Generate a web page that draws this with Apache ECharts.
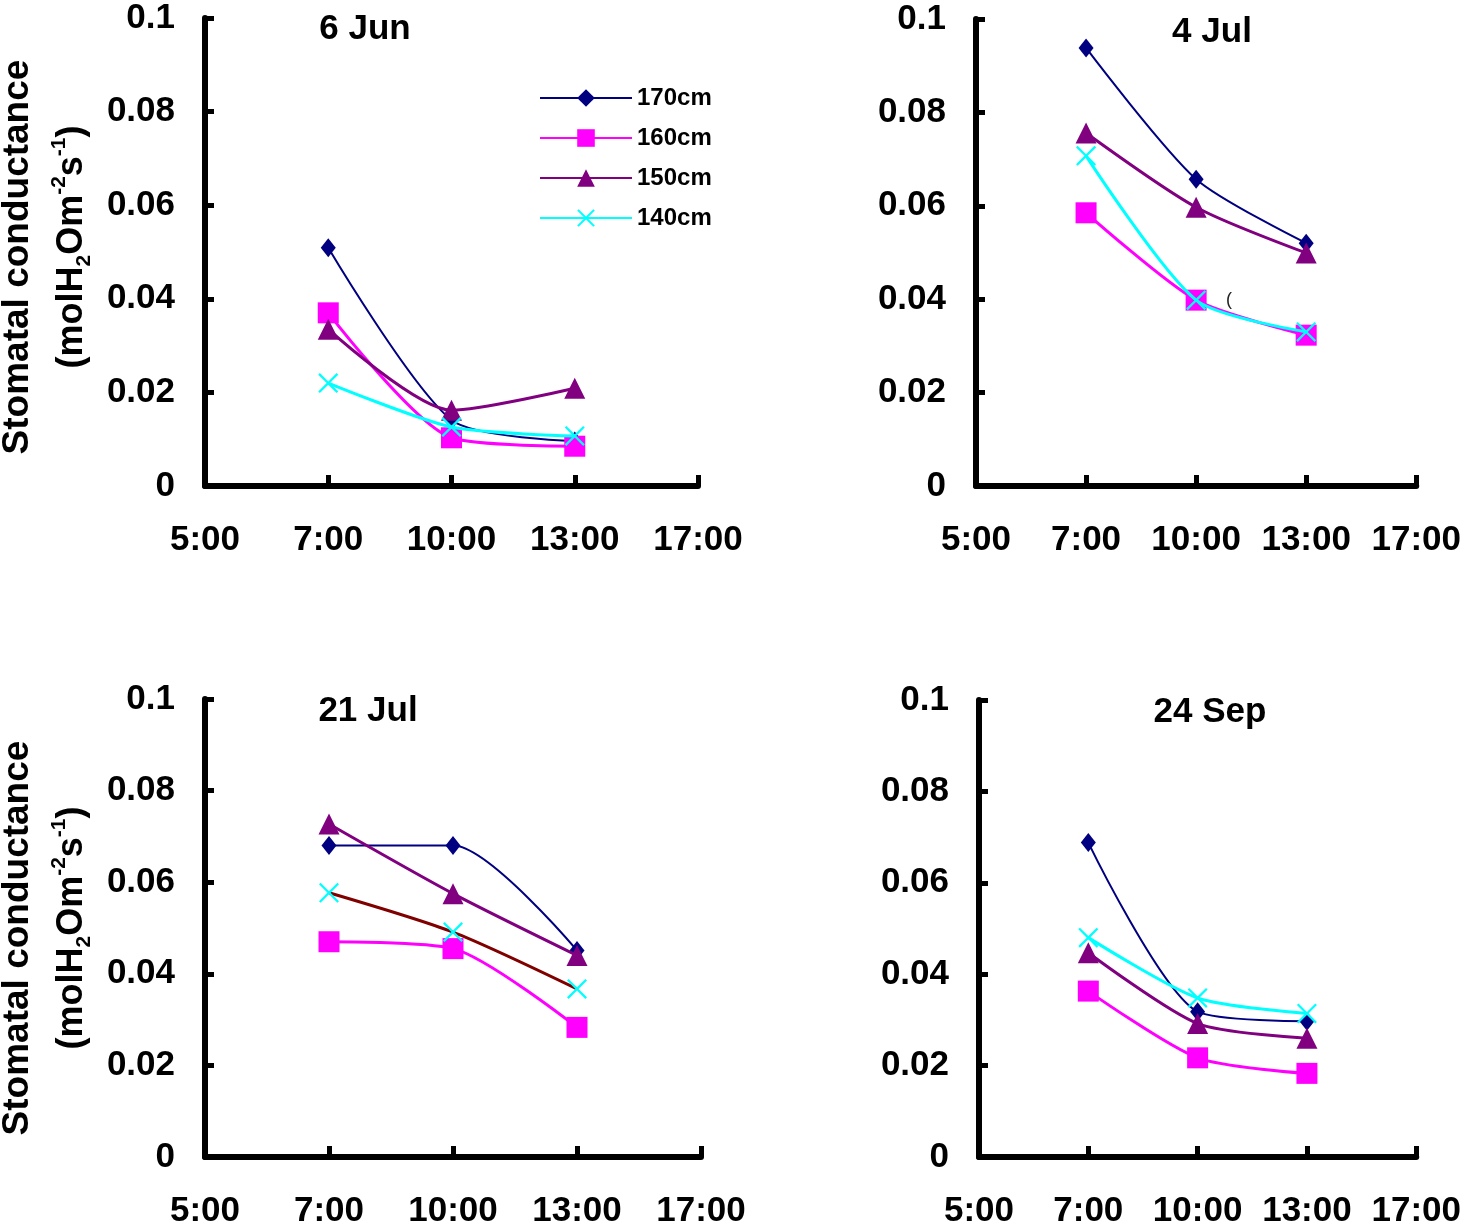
<!DOCTYPE html>
<html>
<head>
<meta charset="utf-8">
<script src="https://cdn.jsdelivr.net/npm/echarts@6/dist/echarts.min.js"></script>
<style>
html,body{margin:0;padding:0;background:#fff;}
#chart{width:1464px;height:1229px;}
</style>
</head>
<body>
<div id="chart"></div>
<script>
// ---- data ----
var hours = ['5:00', '7:00', '10:00', '13:00', '17:00'];
var sampleHours = ['7:00', '10:00', '13:00'];
var yTickLabels = ['0', '0.02', '0.04', '0.06', '0.08', '0.1'];
var seriesNames = ['170cm', '160cm', '150cm', '140cm'];
var panelTitles = ['6 Jun', '4 Jul', '21 Jul', '24 Sep'];

// 6 Jun
var jun6_170 = [0.0509, 0.0141, 0.0096];
var jun6_160 = [0.0370, 0.0103, 0.0085];
var jun6_150 = [0.0335, 0.0162, 0.0209];
var jun6_140 = [0.0220, 0.0126, 0.0107];
// 4 Jul
var jul4_170 = [0.0938, 0.0657, 0.0520];
var jul4_160 = [0.0585, 0.0398, 0.0323];
var jul4_150 = [0.0756, 0.0597, 0.0499];
var jul4_140 = [0.0707, 0.0398, 0.0330];
// 21 Jul
var jul21_170 = [0.0680, 0.0680, 0.0451];
var jul21_160 = [0.0470, 0.0455, 0.0283];
var jul21_150 = [0.0727, 0.0575, 0.0440];
var jul21_140 = [0.0577, 0.0491, 0.0367];
// 24 Sep
var sep24_170 = [0.0688, 0.0318, 0.0297];
var sep24_160 = [0.0363, 0.0217, 0.0183];
var sep24_150 = [0.0447, 0.0292, 0.0260];
var sep24_140 = [0.0480, 0.0348, 0.0314];

var panels = [
  [jun6_170, jun6_160, jun6_150, jun6_140],
  [jul4_170, jul4_160, jul4_150, jul4_140],
  [jul21_170, jul21_160, jul21_150, jul21_140],
  [sep24_170, sep24_160, sep24_150, sep24_140]
];

// ---- styles ----
var FONT = '"Liberation Sans", Arial, sans-serif';
var colors = ['#000080', '#FF00FF', '#800080', '#00FFFF'];
var lineColorOverride = {'2-3': '#800000'}; // 21 Jul, 140cm line drawn in brown
var xSymbol = 'path://M0,1.6L1.6,0L10,8.4L18.4,0L20,1.6L11.6,10L20,18.4L18.4,20L10,11.6L1.6,20L0,18.4L8.4,10Z';
var symbols = ['diamond', 'rect', 'triangle', xSymbol];
var symbolSizes = [[15, 19], 21, [21, 21], 20];
var lineWidths = [2, 3, 3, 3];

var grids = [
  {left: 205, top: 18, width: 493, height: 468},
  {left: 976, top: 19, width: 446, height: 467},
  {left: 205, top: 699, width: 496, height: 466},
  {left: 979, top: 700, width: 443, height: 465}
];

var xAxes = [], yAxes = [], series = [];
grids.forEach(function (g, i) {
  xAxes.push({
    type: 'category', gridIndex: i, data: hours, boundaryGap: false,
    axisLine: {lineStyle: {color: '#000', width: 6}},
    axisTick: {inside: true, length: 11, lineStyle: {color: '#000', width: 5}},
    axisLabel: {color: '#000', fontFamily: FONT, fontWeight: 'bold', fontSize: 35, margin: 37, interval: 0},
    splitLine: {show: false}
  });
  yAxes.push({
    type: 'value', gridIndex: i, min: 0, max: 0.1, interval: 0.02,
    axisLine: {show: true, lineStyle: {color: '#000', width: 6}},
    axisTick: {show: true, inside: true, length: 9, lineStyle: {color: '#000', width: 5}},
    axisLabel: {
      color: '#000', fontFamily: FONT, fontWeight: 'bold', fontSize: 35, margin: 30,
      formatter: function (v) { return yTickLabels[Math.round(v / 0.02)]; }
    },
    splitLine: {show: false}
  });
  panels[i].forEach(function (vals, s) {
    var lc = lineColorOverride[i + '-' + s] || colors[s];
    series.push({
      name: seriesNames[s], type: 'line', xAxisIndex: i, yAxisIndex: i,
      data: sampleHours.map(function (h, k) { return [h, vals[k]]; }),
      smooth: 0.25,
      symbol: symbols[s], symbolSize: symbolSizes[s],
      itemStyle: {color: colors[s]},
      lineStyle: {color: lc, width: lineWidths[s]},
      z: 2 + s,
      animation: false
    });
  });
});

function yTitle(cx1, cy1, cx2, cy2) {
  return [
    {
      type: 'text', x: cx1, y: cy1, rotation: Math.PI / 2,
      style: {text: 'Stomatal conductance', font: 'bold 37px ' + FONT, fill: '#000',
        textAlign: 'center', textVerticalAlign: 'middle'}
    },
    {
      type: 'text', x: cx2, y: cy2, rotation: Math.PI / 2,
      style: {
        text: '{b|(molH}{sub|2}{b|Om}{sup|-2}{b|s}{sup|-1}{b|)}',
        textAlign: 'center', textVerticalAlign: 'middle', fill: '#000',
        rich: {
          b: {font: 'bold 36px ' + FONT, lineHeight: 46, fill: '#000'},
          sub: {font: 'bold 21px ' + FONT, lineHeight: 21, verticalAlign: 'bottom', fill: '#000'},
          sup: {font: 'bold 21px ' + FONT, lineHeight: 21, verticalAlign: 'top', fill: '#000'}
        }
      }
    }
  ];
}

var titlePos = [[365, 29], [1212, 32], [368, 711], [1210, 712]];
var graphics = [];
titlePos.forEach(function (p, i) {
  graphics.push({
    type: 'text', x: p[0], y: p[1],
    style: {text: panelTitles[i], font: 'bold 35px ' + FONT, fill: '#000', textAlign: 'center', textVerticalAlign: 'middle'}
  });
});
graphics = graphics.concat(yTitle(18, 257, 72, 247), yTitle(18, 938, 72, 928));
graphics.push({type: 'text', x: 1229, y: 300,
  style: {text: '(', font: '18px ' + FONT, fill: '#222', textAlign: 'center', textVerticalAlign: 'middle'}});

var chart = echarts.init(document.getElementById('chart'), null, {renderer: 'canvas'});
chart.setOption({
  backgroundColor: '#fff',
  animation: false,
  grid: grids,
  xAxis: xAxes,
  yAxis: yAxes,
  series: series,
  legend: {
    data: seriesNames, orient: 'vertical', left: 539, top: 86,
    itemWidth: 92, itemHeight: 22, itemGap: 16, padding: 0,
    textStyle: {fontFamily: FONT, fontWeight: 'bold', fontSize: 24, color: '#000'}
  },
  graphic: graphics
});
</script>
</body>
</html>
